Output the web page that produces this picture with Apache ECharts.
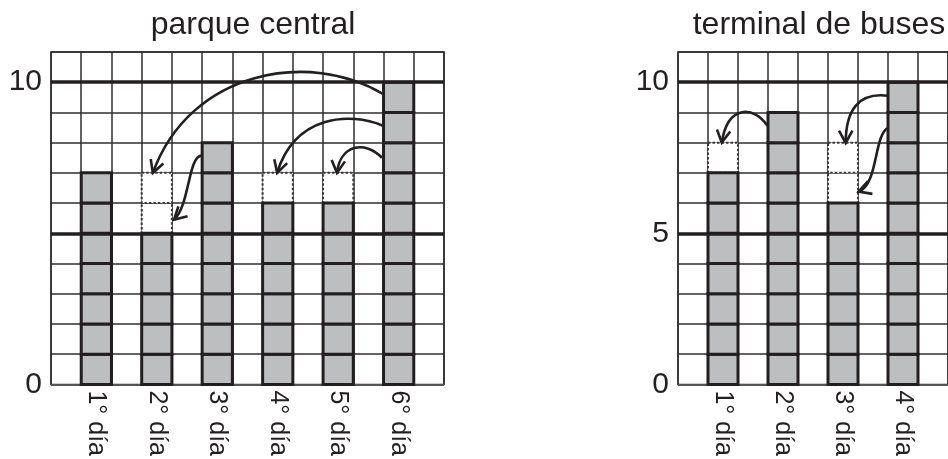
<!DOCTYPE html>
<html>
<head>
<meta charset="utf-8">
<script src="https://cdn.jsdelivr.net/npm/echarts@6/dist/echarts.min.js"></script>
<style>
  html, body { margin: 0; padding: 0; background: #fff; }
  #main { width: 948px; height: 459px; }
</style>
</head>
<body>
<div id="main"></div>
<script>
// datos del gráfico
var parqueDays = ['1° día', '2° día', '3° día', '4° día', '5° día', '6° día'];
var parqueValues = [7, 5, 8, 6, 6, 10];
var parqueDotted = [7, 7, 8, 7, 7, 10];   // hasta donde llega el cuadro punteado
var parqueYLabels = [0, 10];

var terminalDays = ['1° día', '2° día', '3° día', '4° día'];
var terminalValues = [7, 9, 6, 10];
var terminalDotted = [8, 9, 8, 10];
var terminalYLabels = [0, 5, 10];

var boldLevels = [5, 10];
var yMax = 11;

// flechas: puntos de control (columna, valor) de una curva cúbica
var parqueArrows = [
    [10.98, 9.61, 8.57, 11.07, 4.60, 10.41, 3.37, 7.00],
    [10.98, 8.56, 9.89, 9.02, 8.07, 8.92, 7.48, 7.00],
    [10.95, 7.50, 10.39, 8.09, 9.56, 7.93, 9.46, 7.00],
    [4.99, 7.57, 4.53, 7.57, 4.60, 5.95, 4.07, 5.45]
];
var terminalArrows = [
    [2.98, 8.56, 2.55, 9.22, 1.65, 9.28, 1.46, 8.00],
    [7.01, 9.55, 6.02, 9.68, 5.59, 9.08, 5.59, 7.99],
    [7.01, 8.50, 6.52, 8.26, 6.68, 6.61, 6.02, 6.38]
];

var ink = '#231f20';
var fontFam = '"Liberation Sans", Arial, sans-serif';

function spread(days) {
    var c = [''];
    days.forEach(function (d) { c.push(d); c.push(''); });
    return c;
}

function renderCells(params, api) {
    var c = api.value(0), v = api.value(1), t = api.value(2);
    var s = api.size([1, 1]);
    var w = s[0], h = s[1];
    var dotted = [], solid = [];
    for (var k = 0; k < t; k++) {
        var p = api.coord([c, k + 1]);
        var shape = { x: p[0] - w / 2, y: p[1], width: w, height: h };
        if (k < v) {
            solid.push({ type: 'rect', shape: shape,
                style: { fill: '#bcbec0', stroke: ink, lineWidth: 3 } });
        } else {
            dotted.push({ type: 'rect', shape: shape,
                style: { fill: '#fff', stroke: '#3a3536', lineWidth: 2, lineDash: [2.5, 2] } });
        }
    }
    return { type: 'group', children: dotted.concat(solid) };
}

function renderArrow(params, api) {
    var band = api.size([1, 0])[0];
    var x0 = api.coord([0, 0])[0] - band / 2;
    function P(i) {
        return [x0 + api.value(2 * i) * band, api.coord([0, api.value(2 * i + 1)])[1]];
    }
    var p0 = P(0), p1 = P(1), p2 = P(2), p3 = P(3);
    var dx = p3[0] - p2[0], dy = p3[1] - p2[1];
    var len = Math.sqrt(dx * dx + dy * dy) || 1;
    dx /= len; dy /= len;
    var L = 14, a = 0.5;
    function back(ang) {
        var ca = Math.cos(ang), sa = Math.sin(ang);
        var rx = dx * ca - dy * sa, ry = dx * sa + dy * ca;
        return [p3[0] - rx * L, p3[1] - ry * L];
    }
    return {
        type: 'group',
        children: [
            { type: 'bezierCurve',
              shape: { x1: p0[0], y1: p0[1], cpx1: p1[0], cpy1: p1[1],
                       cpx2: p2[0], cpy2: p2[1], x2: p3[0], y2: p3[1] },
              style: { stroke: ink, fill: null, lineWidth: 2.6 } },
            { type: 'polyline',
              shape: { points: [back(a), p3, back(-a)] },
              style: { stroke: ink, fill: null, lineWidth: 2.6 } }
        ]
    };
}

function xAxisFor(days, idx) {
    return {
        type: 'category',
        gridIndex: idx,
        data: spread(days),
        boundaryGap: true,
        axisTick: { show: false },
        axisLine: { show: true, lineStyle: { color: '#555', width: 1 } },
        axisLabel: { interval: 0, rotate: -90, margin: 6, fontSize: 25,
                     color: ink, fontFamily: fontFam },
        splitLine: { show: true, interval: 0, lineStyle: { color: '#2e2e2e', width: 1.5 } }
    };
}

function yAxisFor(labels, idx) {
    return {
        type: 'value',
        gridIndex: idx,
        min: 0, max: yMax, interval: 1,
        axisLine: { show: false },
        axisTick: { show: false },
        axisLabel: {
            margin: 9, fontSize: 30, color: ink, fontFamily: fontFam,
            formatter: function (v) { return labels.indexOf(v) >= 0 ? String(v) : ''; }
        },
        splitLine: { show: true, lineStyle: { color: '#2e2e2e', width: 1.5 } }
    };
}

function barSeries(days, values, dotted, idx) {
    return {
        type: 'custom',
        xAxisIndex: idx, yAxisIndex: idx,
        renderItem: renderCells,
        encode: { x: 0, y: 1 },
        data: days.map(function (d, i) { return [2 * i + 1, values[i], dotted[i]]; }),
        markLine: {
            silent: true,
            symbol: 'none',
            label: { show: false },
            lineStyle: { color: ink, width: 3.5, type: 'solid' },
            data: boldLevels.map(function (b) { return { yAxis: b }; })
        },
        z: 3
    };
}

function arrowSeries(arrows, idx) {
    return {
        type: 'custom',
        xAxisIndex: idx, yAxisIndex: idx,
        renderItem: renderArrow,
        data: arrows,
        silent: true,
        z: 5
    };
}

var chart = echarts.init(document.getElementById('main'));
var option = {
    backgroundColor: '#fff',
    animation: false,
    title: [
        { text: 'parque central', left: 248, top: 4, textAlign: 'center',
          textStyle: { fontSize: 32, fontWeight: 'normal', color: ink, fontFamily: fontFam } },
        { text: 'terminal de buses', left: 814, top: 4, textAlign: 'center',
          textStyle: { fontSize: 32, fontWeight: 'normal', color: ink, fontFamily: fontFam } }
    ],
    grid: [
        { left: 51, top: 52, width: 393, height: 333, show: true,
          borderColor: '#2e2e2e', borderWidth: 1.5 },
        { left: 678, top: 52, width: 272, height: 333, show: true,
          borderColor: '#2e2e2e', borderWidth: 1.5 }
    ],
    xAxis: [xAxisFor(parqueDays, 0), xAxisFor(terminalDays, 1)],
    yAxis: [yAxisFor(parqueYLabels, 0), yAxisFor(terminalYLabels, 1)],
    series: [
        barSeries(parqueDays, parqueValues, parqueDotted, 0),
        barSeries(terminalDays, terminalValues, terminalDotted, 1),
        arrowSeries(parqueArrows, 0),
        arrowSeries(terminalArrows, 1)
    ]
};
chart.setOption(option);
</script>
</body>
</html>
